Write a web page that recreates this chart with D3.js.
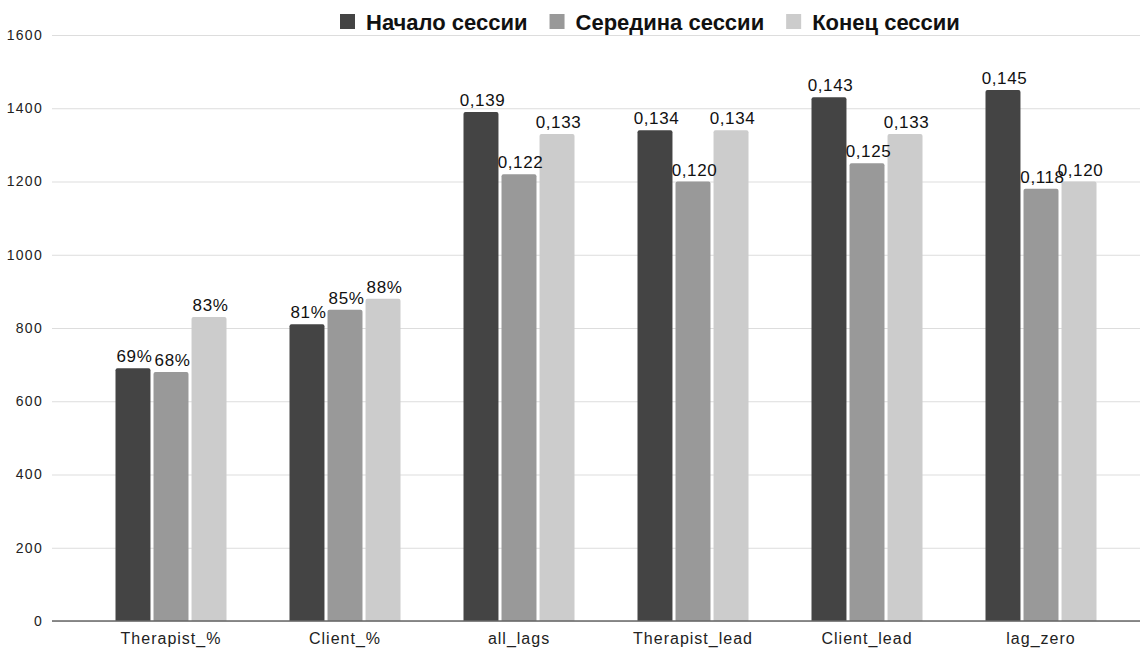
<!DOCTYPE html>
<html><head><meta charset="utf-8">
<script src="https://cdn.jsdelivr.net/npm/d3@7"></script>
<style>
html,body{margin:0;padding:0;background:#ffffff;}
text{font-family:"Liberation Sans",Arial,sans-serif;}
</style></head>
<body>
<svg id="chart" width="1140" height="648"></svg>
<script>
const categories = ["Therapist_%", "Client_%", "all_lags", "Therapist_lead", "Client_lead", "lag_zero"];
const seriesNames = ["Начало сессии", "Середина сессии", "Конец сессии"];
const startValues = [690, 810, 1390, 1340, 1430, 1450];
const middleValues = [680, 850, 1220, 1200, 1250, 1180];
const endValues = [830, 880, 1330, 1340, 1330, 1200];
const startLabels = ["69%", "81%", "0,139", "0,134", "0,143", "0,145"];
const middleLabels = ["68%", "85%", "0,122", "0,120", "0,125", "0,118"];
const endLabels = ["83%", "88%", "0,133", "0,134", "0,133", "0,120"];
const yTicks = [0, 200, 400, 600, 800, 1000, 1200, 1400, 1600];
const colors = ["#444444", "#999999", "#cccccc"];

const seriesValues = [startValues, middleValues, endValues];
const seriesLabels = [startLabels, middleLabels, endLabels];

const svg = d3.select("#chart");
const plotLeft = 52, plotRight = 1140;

const y = d3.scaleLinear().domain([0, 1600]).range([621, 35]);
const x0 = d3.scaleBand().domain(categories).range([84, 1128]).padding(0);
const groupW = 111;
const x1 = d3.scaleBand().domain(seriesNames).range([0, groupW]).paddingInner(0.08);
const groupOff = (x0.bandwidth() - groupW) / 2;

// gridlines + y tick labels
const yAxis = d3.axisLeft(y).tickValues(yTicks).tickSize(-(plotRight - plotLeft)).tickPadding(8).tickFormat(d3.format("d"));
const gY = svg.append("g").attr("transform", `translate(${plotLeft},0)`).call(yAxis);
gY.select(".domain").remove();
gY.selectAll(".tick line").attr("stroke", "#dddddd").attr("stroke-width", 1.2);
gY.selectAll(".tick text").attr("fill", "#222").style("font-size", "14px").style("letter-spacing", "1.3px").attr("x", -9);

// bars
const rows = [];
categories.forEach((c, i) => {
  seriesNames.forEach((s, j) => {
    rows.push({cat: c, ser: s, j: j, v: seriesValues[j][i], label: seriesLabels[j][i]});
  });
});

function barPath(x, w, yTop, yBot, r) {
  return `M${x},${yBot}V${yTop + r}Q${x},${yTop} ${x + r},${yTop}H${x + w - r}Q${x + w},${yTop} ${x + w},${yTop + r}V${yBot}Z`;
}

svg.append("g").selectAll("path").data(rows).join("path")
  .attr("d", d => {
    const bx = x0(d.cat) + groupOff + x1(d.ser);
    return barPath(bx, x1.bandwidth(), y(d.v), y(0), 2);
  })
  .attr("fill", d => colors[d.j]);

// baseline
svg.append("line").attr("x1", plotLeft).attr("x2", plotRight).attr("y1", y(0)).attr("y2", y(0))
  .attr("stroke", "#666").attr("stroke-width", 1.5);

// value labels
svg.append("g").selectAll("text").data(rows).join("text")
  .attr("x", d => x0(d.cat) + groupOff + x1(d.ser) + x1.bandwidth() / 2 + 1.5)
  .attr("y", d => y(d.v) - 6)
  .attr("text-anchor", "middle")
  .style("font-size", "17px")
  .style("letter-spacing", "0.6px")
  .attr("fill", "#111")
  .text(d => d.label);

// category axis labels
const xAxis = d3.axisBottom(x0).tickSize(0).tickPadding(0);
const gX = svg.append("g").attr("transform", `translate(0,${y(0)})`).call(xAxis);
gX.select(".domain").remove();
gX.selectAll(".tick text").attr("dy", 0).attr("y", 23).attr("fill", "#222")
  .style("font-size", "16px").style("letter-spacing", "1px");

// legend
const legend = svg.append("g");
let lx = 340;
seriesNames.forEach((s, j) => {
  legend.append("rect").attr("x", lx).attr("y", 14).attr("width", 15).attr("height", 15).attr("fill", colors[j]);
  const t = legend.append("text").attr("x", lx + 26).attr("y", 30)
    .style("font-size", "22px").style("font-weight", "bold").attr("fill", "#111").text(s);
  const w = t.node().getComputedTextLength();
  lx = lx + 26 + w + 22;
});
</script>
</body></html>
